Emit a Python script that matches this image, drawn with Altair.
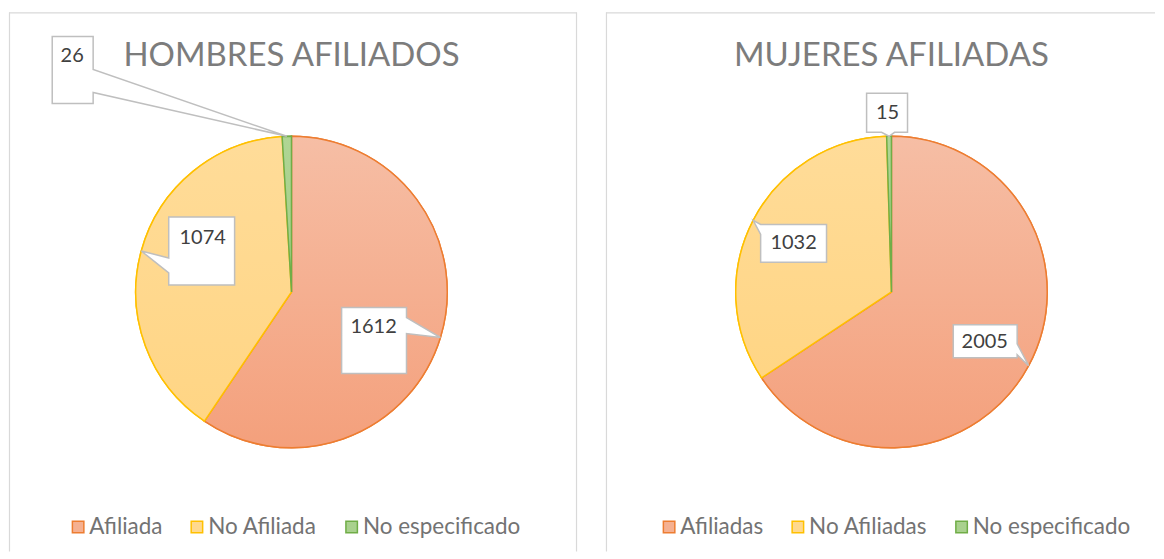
import math
import altair as alt
import pandas as pd

# ---------------- data ----------------
men_categories = ["Afiliada", "No Afiliada", "No especificado"]
men_values = [1612, 1074, 26]
women_categories = ["Afiliadas", "No Afiliadas", "No especificado"]
women_values = [2005, 1032, 15]
panel_titles = ["HOMBRES AFILIADOS", "MUJERES AFILIADAS"]

# ---------------- style ----------------
FONT = "Lato"
fill_top = ["#F6BEA5", "#FFDC99", "#AFD594"]
fill_bottom = ["#F4A07C", "#FFD584", "#A4CE87"]
fill_legend = ["#F5B091", "#FFD98E", "#A9D18E"]
stroke_colors = ["#ED7D31", "#FFC000", "#70AD47"]
BORDER = "#D9D9D9"
R = 156

# callout layout, relative to the slice anchor (point on the rim at mid-angle)
men_callouts = [
    dict(box=(-99, -30, -34, 36), side="right", base=(-20, -4), text=(-67, -10)),
    dict(box=(27.5, -34, 93.5, 34), side="left", base=(7, 22), text=(61.5, -13)),
    dict(box=(-235, -100, -194, -33), side="right", base=(-67, -44), text=(-215, -80)),
]
women_callouts = [
    dict(box=(-75.5, -41, -11.5, -8), side="right", base=(-22, -11), text=(-44, -24)),
    dict(box=(7.5, 4, 73.5, 42), side="left", base=(4, 14), text=(40.5, 23)),
    dict(box=(-22.5, -43, 18.5, -4), side="bottom", base=(-7.5, 5.5), text=(-1.5, -23)),
]


def callout_path(c):
    x0, y0, x1, y1 = c["box"]
    b0, b1 = c["base"]
    s = c["side"]
    p = [f"M{x0},{y0}", f"L{x1},{y0}"]
    if s == "right":
        p += [f"L{x1},{b0}", "L0,0", f"L{x1},{b1}"]
    p.append(f"L{x1},{y1}")
    if s == "bottom":
        p += [f"L{b1},{y1}", "L0,0", f"L{b0},{y1}"]
    p.append(f"L{x0},{y1}")
    if s == "left":
        p += [f"L{x0},{b1}", "L0,0", f"L{x0},{b0}"]
    p.append("Z")
    return " ".join(p)


def panel(cats, vals, callouts, title, width, height, cx, cy, legend_x, legend_y, right_border):
    df = pd.DataFrame({
        "cat": cats,
        "value": vals,
        "idx": list(range(len(cats))),
        "path": [callout_path(c) for c in callouts],
        "tdx": [c["text"][0] for c in callouts],
        "tdy": [c["text"][1] for c in callouts],
    })
    base = (
        alt.Chart(df)
        .transform_joinaggregate(total="sum(value)")
        .transform_window(cum="sum(value)", sort=[alt.SortField("idx")])
        .transform_calculate(
            start="(datum.cum - datum.value) / datum.total",
            end="datum.cum / datum.total",
            mid="(datum.cum - datum.value / 2) / datum.total",
        )
        .transform_calculate(
            ax=f"{cx} + {R} * sin(2 * PI * datum.mid)",
            ay=f"{cy} - {R} * cos(2 * PI * datum.mid)",
        )
        .transform_calculate(
            tx="datum.ax + datum.tdx",
            ty="datum.ay + datum.tdy",
        )
    )
    theta = alt.Theta("start:Q", scale=alt.Scale(domain=[0, 1], range=[0, 2 * math.pi]))
    theta2 = alt.Theta2("end:Q")
    leg = alt.Legend(
        orient="none", legendX=legend_x, legendY=legend_y, direction="horizontal",
        title=None, symbolType="square", symbolSize=132, symbolStrokeWidth=1.5,
        labelFont=FONT, labelFontSize=22.5, labelColor="#737373", columnPadding=23,
        labelOffset=0, symbolOpacity=1,
    )
    legend_layer = base.mark_arc(radius=R, strokeWidth=1.5).encode(
        x=alt.value(cx), y=alt.value(cy), theta=theta, theta2=theta2,
        fill=alt.Fill("cat:N", scale=alt.Scale(domain=cats, range=fill_legend), legend=leg, sort=cats),
        stroke=alt.Stroke("cat:N", scale=alt.Scale(domain=cats, range=stroke_colors), legend=leg, sort=cats),
    )
    layers = [legend_layer]
    for i in range(len(cats)):
        grad = {
            "gradient": "linear", "x1": 0, "y1": 0, "x2": 0, "y2": 1,
            "stops": [{"offset": 0, "color": fill_top[i]}, {"offset": 1, "color": fill_bottom[i]}],
        }
        layers.append(
            base.transform_filter(f"datum.idx == {i}")
            .mark_arc(radius=R, fill=grad, stroke=stroke_colors[i], strokeWidth=1.5)
            .encode(x=alt.value(cx), y=alt.value(cy), theta=theta, theta2=theta2)
        )
    boxes = base.mark_point(
        filled=True, fill="white", stroke="#BFBFBF", strokeWidth=1.5, size=4, opacity=1,
        fillOpacity=1, strokeOpacity=1,
    ).encode(
        x=alt.X("ax:Q", scale=None), y=alt.Y("ay:Q", scale=None),
        shape=alt.Shape("path:N", scale=None, legend=None),
    )
    labels = base.mark_text(font=FONT, fontSize=20, color="#404040", align="center", baseline="middle").encode(
        x=alt.X("tx:Q", scale=None), y=alt.Y("ty:Q", scale=None), text="value:Q",
    )
    tdf = pd.DataFrame({"t": [title]})
    title_layer = alt.Chart(tdf).mark_text(
        font=FONT, fontSize=33, color="#7C7C7C", align="center", baseline="alphabetic"
    ).encode(x=alt.value(cx), y=alt.value(54), text="t:N")
    rules = [
        alt.Chart(tdf).mark_rule(color=BORDER, strokeWidth=1.2).encode(
            x=alt.value(0.5), x2=alt.value(0.5), y=alt.value(0), y2=alt.value(height)),
        alt.Chart(tdf).mark_rule(color=BORDER, strokeWidth=1.2).encode(
            x=alt.value(0), x2=alt.value(width), y=alt.value(0.5), y2=alt.value(0.5)),
    ]
    if right_border:
        rules.append(alt.Chart(tdf).mark_rule(color=BORDER, strokeWidth=1.2).encode(
            x=alt.value(width - 0.5), x2=alt.value(width - 0.5), y=alt.value(0), y2=alt.value(height)))
    return alt.layer(*rules, *layers, boxes, labels, title_layer).properties(
        width=width, height=height,
        view=alt.ViewBackground(strokeWidth=0, strokeOpacity=0, stroke="transparent"),
    )


H = 540
left = panel(men_categories, men_values, men_callouts, panel_titles[0], 569, H, 283, 280, 58, 504, True)
right = panel(women_categories, women_values, women_callouts, panel_titles[1], 550, H, 286, 280, 52, 504, False)

chart = (
    alt.hconcat(left, right, spacing=27)
    .resolve_scale(fill="independent", stroke="independent", theta="independent")
    .resolve_legend(fill="independent", stroke="independent")
    .properties(padding={"left": 0, "top": 3, "right": 0, "bottom": 0})
    .configure_view(strokeWidth=0, strokeOpacity=0, stroke="transparent")
    .configure(background="white")
)

chart.save("out.html", embed_options={"renderer": "svg", "actions": False})
